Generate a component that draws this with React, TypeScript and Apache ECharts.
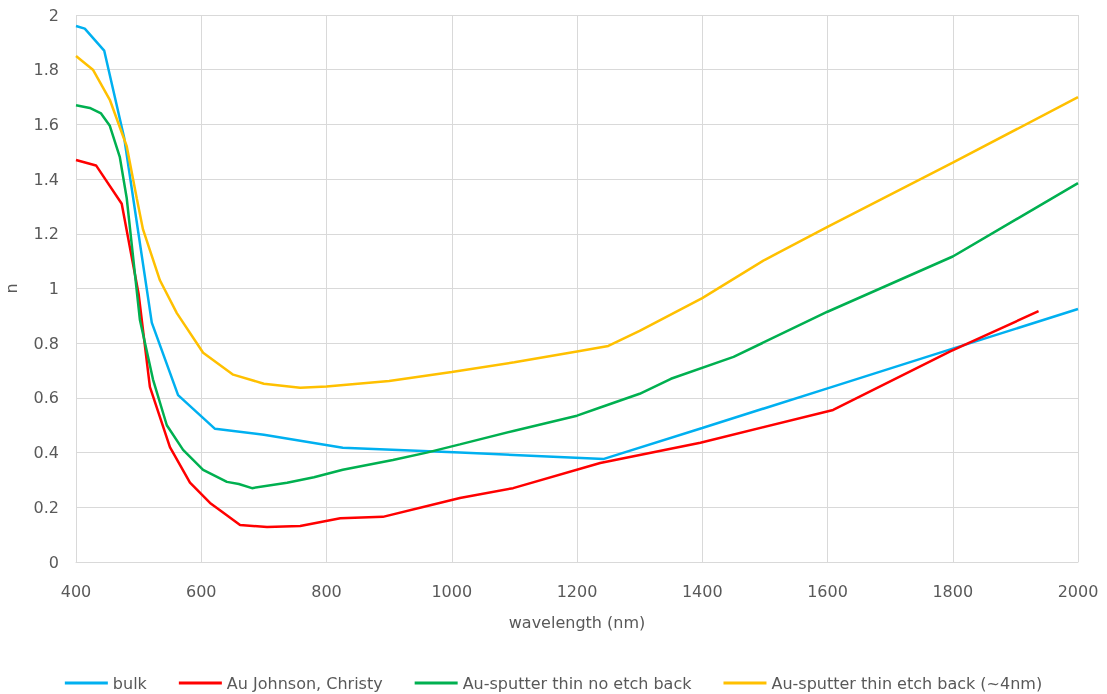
import React, { useEffect, useRef } from "react";
import * as echarts from "echarts";

const xTicks = [400, 600, 800, 1000, 1200, 1400, 1600, 1800, 2000];
const yTicks = [0, 0.2, 0.4, 0.6, 0.8, 1, 1.2, 1.4, 1.6, 1.8, 2];

const bulkWl = [400, 414, 445, 477, 521, 563, 622, 700, 826, 1013, 1243, 1400, 1600, 1800, 2000];
const bulkN = [1.96, 1.95, 1.87, 1.55, 0.875, 0.61, 0.487, 0.465, 0.418, 0.4, 0.377, 0.49, 0.635, 0.78, 0.925];

const jcWl = [400, 432, 473, 500, 518, 550, 582, 614, 662, 705, 758, 822, 890, 1013, 1098, 1237, 1397, 1609, 1796, 1937];
const jcN = [1.47, 1.45, 1.31, 0.98, 0.64, 0.42, 0.29, 0.216, 0.135, 0.128, 0.132, 0.16, 0.165, 0.234, 0.27, 0.362, 0.436, 0.556, 0.77, 0.917];

const noEtchWl = [400, 422, 440, 454, 470, 481, 502, 523, 545, 571, 603, 641, 660, 681, 737, 780, 826, 906, 960, 1013, 1100, 1200, 1237, 1300, 1350, 1450, 1600, 1800, 2000];
const noEtchN = [1.67, 1.66, 1.64, 1.595, 1.48, 1.33, 0.886, 0.667, 0.5, 0.41, 0.337, 0.293, 0.285, 0.27, 0.29, 0.31, 0.337, 0.373, 0.4, 0.43, 0.48, 0.535, 0.565, 0.615, 0.67, 0.75, 0.915, 1.117, 1.385];

const etchWl = [400, 427, 454, 481, 497, 507, 534, 561, 603, 651, 700, 758, 800, 900, 1000, 1100, 1200, 1250, 1300, 1400, 1500, 1600, 1800, 2000];
const etchN = [1.85, 1.8, 1.69, 1.52, 1.33, 1.216, 1.03, 0.91, 0.765, 0.685, 0.652, 0.637, 0.642, 0.662, 0.695, 0.73, 0.77, 0.79, 0.845, 0.965, 1.105, 1.225, 1.46, 1.70];

const names = ["bulk", "Au Johnson, Christy", "Au-sputter thin no etch back", "Au-sputter thin etch back (~4nm)"];
const colors = ["#00B0F0", "#FF0000", "#00B050", "#FFC000"];

const zip = (a: number[], b: number[]) => a.map((v, i) => [v, b[i]]);

export default function App() {
  const ref = useRef<HTMLDivElement>(null);
  useEffect(() => {
    if (!ref.current) return;
    const chart = echarts.init(ref.current, undefined, { renderer: "svg" });
    const font = "'DejaVu Sans', sans-serif";
    const grey = "#595959";
    const data = [zip(bulkWl, bulkN), zip(jcWl, jcN), zip(noEtchWl, noEtchN), zip(etchWl, etchN)];
    chart.setOption({
      animation: false,
      textStyle: { fontFamily: font },
      grid: { left: 76, right: 29, top: 15, bottom: 132, containLabel: false, outerBoundsMode: "none" },
      legend: {
        top: 670,
        left: "center",
        icon: "rect",
        itemWidth: 43,
        itemHeight: 3,
        itemGap: 32,
        textStyle: { color: grey, fontSize: 16, fontFamily: font },
        data: names,
      },
      xAxis: {
        type: "value",
        min: xTicks[0],
        max: xTicks[xTicks.length - 1],
        interval: 200,
        name: "wavelength (nm)",
        nameLocation: "middle",
        nameGap: 52,
        nameTextStyle: { color: grey, fontSize: 16, fontFamily: font },
        axisLine: { lineStyle: { color: "#d9d9d9" } },
        axisTick: { show: false },
        axisLabel: { color: grey, fontSize: 16, margin: 21, fontFamily: font, formatter: (v: number) => String(v) },
        splitLine: { show: true, lineStyle: { color: "#d9d9d9", width: 1 } },
      },
      yAxis: {
        type: "value",
        min: yTicks[0],
        max: yTicks[yTicks.length - 1],
        interval: 0.2,
        name: "n",
        nameLocation: "middle",
        nameGap: 57,
        nameRotate: 90,
        nameTextStyle: { color: grey, fontSize: 16, fontFamily: font },
        axisLine: { show: false },
        axisTick: { show: false },
        axisLabel: {
          color: grey,
          fontSize: 16,
          margin: 17,
          fontFamily: font,
          formatter: (v: number) => String(Math.round(v * 10) / 10),
        },
        splitLine: { show: true, lineStyle: { color: "#d9d9d9", width: 1 } },
      },
      series: names.map((n, i) => ({
        name: n,
        type: "line",
        data: data[i],
        showSymbol: false,
        symbol: "none",
        lineStyle: { color: colors[i], width: 2.5 },
        itemStyle: { color: colors[i] },
      })),
    });
    return () => chart.dispose();
  }, []);
  return <div ref={ref} style={{ position: "fixed", left: 0, top: 0, width: 1107, height: 694 }} />;
}
